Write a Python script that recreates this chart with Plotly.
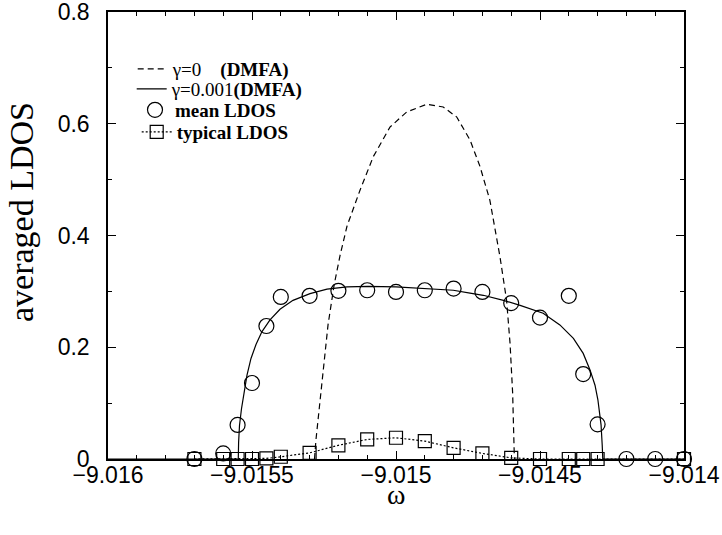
import plotly.graph_objects as go

# ---------------- data ----------------
XTICK_VALS = [-9.016, -9.0155, -9.015, -9.0145, -9.014]
XTICK_TEXT = ["\u22129.016", "\u22129.0155", "\u22129.015", "\u22129.0145", "\u22129.014"]
YTICK_VALS = [0, 0.2, 0.4, 0.6, 0.8]
YTICK_TEXT = ["0", "0.2", "0.4", "0.6", "0.8"]

# gamma = 0 (DMFA), dashed
omega_g0 = [-9.015283, -9.015278, -9.015267, -9.015253, -9.015236, -9.015215, -9.015194,
            -9.015170, -9.015125, -9.015079, -9.015021, -9.014963, -9.014893, -9.014836,
            -9.014789, -9.014743, -9.014708, -9.014674, -9.014639, -9.014616, -9.014604,
            -9.014595, -9.014590, -9.014589]
dos_g0 = [0.0, 0.034, 0.088, 0.159, 0.240, 0.311, 0.365, 0.417, 0.481, 0.541, 0.594, 0.621,
          0.635, 0.630, 0.612, 0.571, 0.523, 0.463, 0.362, 0.284, 0.207, 0.118, 0.004, 0.0]

# gamma = 0.001 (DMFA), solid
omega_g1 = [-9.016, -9.0155476, -9.0155465, -9.0155434, -9.0155365, -9.0155278, -9.0155174,
            -9.0155035, -9.0154861, -9.0154653, -9.0154375, -9.0154028, -9.0153576,
            -9.0152986, -9.0152396, -9.0151701, -9.0150972, -9.015, -9.014899, -9.014801,
            -9.014743, -9.014697, -9.014627, -9.014569, -9.014489, -9.014431, -9.014384,
            -9.01435, -9.014326, -9.014309, -9.014299, -9.014288, -9.014284, -9.014282, -9.014]
dos_g1 = [0.0, 0.0, 0.03, 0.06, 0.09, 0.12, 0.15, 0.18, 0.205, 0.228, 0.249, 0.268, 0.284,
          0.296, 0.304, 0.308, 0.309, 0.308, 0.305, 0.302, 0.297, 0.293, 0.284, 0.275, 0.261,
          0.240, 0.216, 0.189, 0.159, 0.132, 0.106, 0.061, 0.025, 0.0, 0.0]

# mean LDOS (circles)
omega_mean = [-9.0157, -9.0156, -9.01555, -9.0155, -9.01545, -9.0154, -9.0153, -9.0152,
              -9.0151, -9.0150, -9.0149, -9.0148, -9.0147, -9.0146, -9.0145, -9.0144,
              -9.01435, -9.0143, -9.0142, -9.0141, -9.0140]
mean_ldos = [0.0, 0.01, 0.061, 0.136, 0.238, 0.290, 0.292, 0.301, 0.302, 0.299, 0.302, 0.305,
             0.299, 0.279, 0.253, 0.292, 0.152, 0.062, 0.0, 0.0, 0.0]

# typical LDOS (squares)
omega_typ = [-9.0157, -9.0156, -9.01555, -9.0155, -9.01545, -9.0154, -9.0153, -9.0152,
             -9.0151, -9.0150, -9.0149, -9.0148, -9.0147, -9.0146, -9.0145, -9.0144,
             -9.01435, -9.0143, -9.0140]
typ_ldos = [0.0, 0.0, 0.0, 0.0, 0.001, 0.004, 0.011, 0.0245, 0.035, 0.038, 0.032, 0.020,
            0.010, 0.002, 0.0, 0.0, 0.0, 0.0, 0.0]

NAMES = ["\u03b3=0\u00a0\u00a0\u00a0\u00a0<b>(DMFA)</b>",
         "\u03b3=0.001<b>(DMFA)</b>",
         "<b>mean LDOS</b>",
         "<b>typical LDOS</b>"]

# ---------------- figure ----------------
SERIF = "Liberation Serif, Times New Roman, serif"
SANS = "Liberation Sans, Arial, sans-serif"

fig = go.Figure()
fig.add_trace(go.Scatter(x=omega_g0, y=dos_g0, mode="lines", name=NAMES[0], legend="legend",
                         line=dict(color="black", width=1.2, dash="6px,4px")))
fig.add_trace(go.Scatter(x=omega_g1, y=dos_g1, mode="lines", name=NAMES[1], legend="legend2",
                         line=dict(color="black", width=1.2)))
fig.add_trace(go.Scatter(x=omega_mean, y=mean_ldos, mode="markers", name=NAMES[2],
                         legend="legend3", cliponaxis=False,
                         marker=dict(symbol="circle-open", size=15, color="black",
                                     line=dict(width=1.2, color="black"))))
fig.add_trace(go.Scatter(x=omega_typ, y=typ_ldos, mode="lines+markers", name=NAMES[3],
                         legend="legend4", cliponaxis=False,
                         line=dict(color="black", width=1.2, dash="2px,2px"),
                         marker=dict(symbol="square-open", size=13, color="black",
                                     line=dict(width=1.2, color="black"))))

axis_common = dict(showline=True, linecolor="black", linewidth=1.5, mirror="allticks",
                   ticks="inside", tickcolor="black", tickwidth=1.2, ticklen=8,
                   showgrid=False, zeroline=False, automargin=False,
                   ticklabeloverflow="allow",
                   tickfont=dict(family=SANS, size=23, color="black"))

fig.update_xaxes(range=[-9.016, -9.014], tickvals=XTICK_VALS, ticktext=XTICK_TEXT,
                 ticklabelstandoff=-5,
                 minor=dict(dtick=0.0001, tick0=-9.016, ticks="inside", ticklen=4,
                            tickcolor="black", tickwidth=1, showgrid=False),
                 **axis_common)
fig.update_yaxes(range=[0, 0.8], tickvals=YTICK_VALS, ticktext=YTICK_TEXT,
                 ticklabelstandoff=12,
                 minor=dict(dtick=0.1, tick0=0, ticks="inside", ticklen=4,
                            tickcolor="black", tickwidth=1, showgrid=False),
                 **axis_common)

PLOT_L, PLOT_B, PLOT_W, PLOT_H = 108, 459, 576, 447

fig.add_annotation(text="averaged LDOS", xref="paper", yref="paper",
                   x=(21 - PLOT_L) / PLOT_W, y=(PLOT_B - 212) / PLOT_H,
                   textangle=-90, showarrow=False, xanchor="center", yanchor="middle",
                   font=dict(family=SERIF, size=34, color="black"))
fig.add_annotation(text="\u03c9", xref="paper", yref="paper", x=0.5,
                   y=(PLOT_B - 494) / PLOT_H,
                   showarrow=False, xanchor="center", yanchor="middle",
                   font=dict(family=SERIF, size=28, color="black"))


def leg(text_left_px, center_y_px):
    return dict(x=(text_left_px - 40 - PLOT_L) / PLOT_W,
                y=(PLOT_B - center_y_px) / PLOT_H,
                xanchor="left", yanchor="middle",
                bgcolor="rgba(0,0,0,0)", borderwidth=0, itemwidth=30,
                font=dict(family=SERIF, size=19, color="black"))


fig.update_layout(
    width=722, height=535, autosize=False,
    margin=dict(l=108, r=38, t=12, b=76),
    paper_bgcolor="white", plot_bgcolor="white",
    legend=leg(172.7, 69),
    legend2=leg(171.7, 89),
    legend3=leg(175, 110),
    legend4=leg(176.7, 132),
    showlegend=True,
)

# remove the page's default 8px body margin so the figure sits at the window origin
fig.write_html("out.html", config={"displayModeBar": False},
               post_script="document.body.style.margin='0';document.body.style.padding='0';")
